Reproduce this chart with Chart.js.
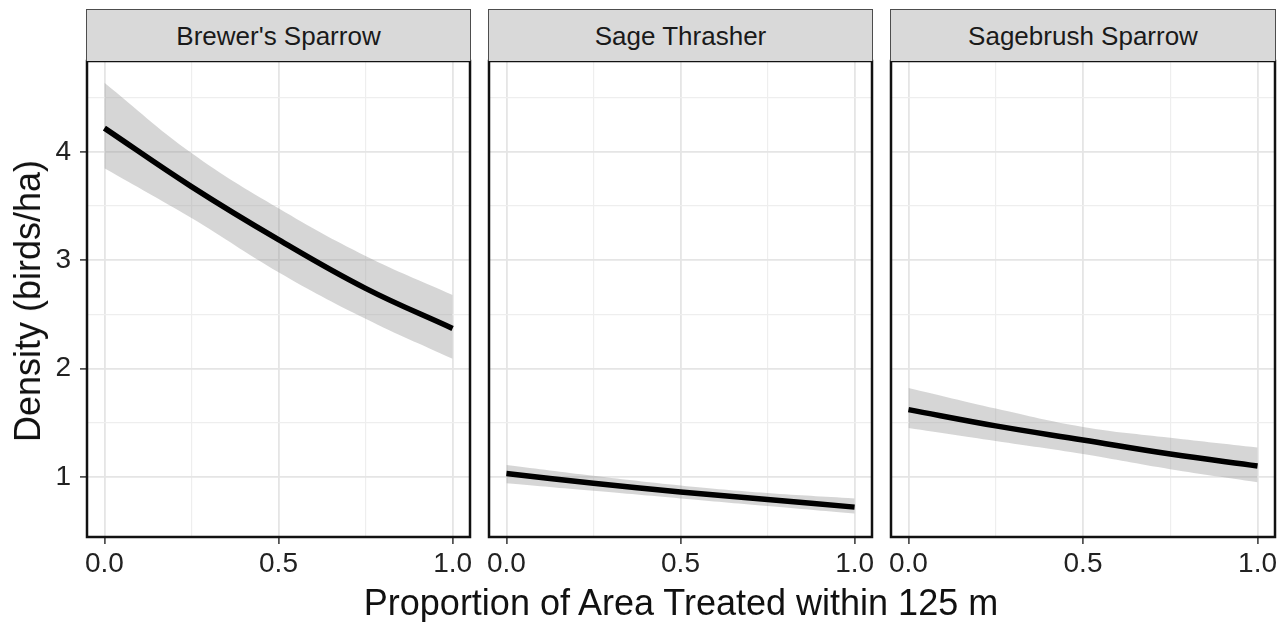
<!DOCTYPE html>
<html>
<head>
<meta charset="utf-8">
<script src="https://cdn.jsdelivr.net/npm/chart.js@4"></script>
<style>
  body { margin: 0; background: #fff; }
  #wrap { position: relative; width: 1286px; height: 622px; font-family: "Liberation Sans", Arial, sans-serif; overflow: hidden; }
  canvas { position: absolute; top: 0; }
  .strip { position: absolute; top: 9px; height: 52px; box-sizing: border-box; background: #d9d9d9; border: 1px solid #4d4d4d; border-bottom: none;
           color: #1a1a1a; font-size: 26px; line-height: 52px; text-align: center; }
  #xtitle { position: absolute; left: 0; width: 1362px; top: 582px; text-align: center; font-size: 36px; color: #111; line-height: 42px; }
  #ytitle { position: absolute; left: 28px; top: 301px; transform: translate(-50%, -50%) rotate(-90deg); white-space: nowrap; font-size: 36px; color: #111; }
</style>
</head>
<body>
<div id="wrap">
  <canvas id="p0" width="480" height="622" style="left:0px"></canvas>
  <canvas id="p1" width="400" height="622" style="left:480px"></canvas>
  <canvas id="p2" width="406" height="622" style="left:880px"></canvas>
  <div class="strip" id="s0" style="left:86px;width:385px"></div>
  <div class="strip" id="s1" style="left:488px;width:385px"></div>
  <div class="strip" id="s2" style="left:890px;width:386px"></div>
  <div id="xtitle">Proportion of Area Treated within 125 m</div>
  <div id="ytitle">Density (birds/ha)</div>
</div>
<script>
const speciesNames = ["Brewer's Sparrow", "Sage Thrasher", "Sagebrush Sparrow"];
const xValues = [0, 0.25, 0.5, 0.75, 1];

// fitted density and 95% band
const brewersFit   = [4.22, 3.68, 3.19, 2.74, 2.37];
const brewersUpper = [4.64, 3.99, 3.48, 3.04, 2.68];
const brewersLower = [3.85, 3.39, 2.89, 2.46, 2.09];

const thrasherFit   = [1.03, 0.94, 0.86, 0.79, 0.72];
const thrasherUpper = [1.11, 1.01, 0.92, 0.85, 0.80];
const thrasherLower = [0.94, 0.87, 0.80, 0.73, 0.66];

const sagebrushFit   = [1.62, 1.47, 1.34, 1.21, 1.10];
const sagebrushUpper = [1.82, 1.63, 1.46, 1.36, 1.27];
const sagebrushLower = [1.45, 1.33, 1.21, 1.07, 0.95];

const xTicks = [0, 0.25, 0.5, 0.75, 1];
const xTickLabels = ["0.0", "", "0.5", "", "1.0"];
const yTicks = [1, 1.5, 2, 2.5, 3, 3.5, 4, 4.5];
const yTickLabels = ["1", "", "2", "", "3", "", "4", ""];

const fits = [brewersFit, thrasherFit, sagebrushFit];
const uppers = [brewersUpper, thrasherUpper, sagebrushUpper];
const lowers = [brewersLower, thrasherLower, sagebrushLower];

const xRange = [-0.05, 1.05];
const yRange = [0.444, 4.84];

// canvas layout so the panels line up with the strips
const layoutInfo = [
  { padL: 0,  yAxisW: 87, padR: 10, showY: true },
  { padL: 9,  yAxisW: 0,  padR: 8,  showY: false },
  { padL: 11, yAxisW: 0,  padR: 11, showY: false }
];

const panelBorder = {
  id: "panelBorder",
  afterDraw(chart) {
    const { ctx, chartArea: a } = chart;
    ctx.save();
    ctx.strokeStyle = "#111";
    ctx.lineWidth = 2.5;
    ctx.strokeRect(a.left, a.top, a.right - a.left, a.bottom - a.top);
    ctx.restore();
  }
};

const pts = arr => xValues.map((x, i) => ({ x: x, y: arr[i] }));
const isMajor = (list, v) => list[v] !== "";

speciesNames.forEach((name, p) => {
  document.getElementById("s" + p).textContent = name;
  const L = layoutInfo[p];

  new Chart(document.getElementById("p" + p), {
    type: "line",
    data: {
      datasets: [
        { data: pts(fits[p]), borderColor: "#000", borderWidth: 5.5, pointRadius: 0, fill: false, tension: 0.4 },
        { data: pts(uppers[p]), borderWidth: 0, borderColor: "rgba(0,0,0,0)", pointRadius: 0, fill: "+1",
          backgroundColor: "rgba(153,153,153,0.4)", tension: 0.4 },
        { data: pts(lowers[p]), borderWidth: 0, borderColor: "rgba(0,0,0,0)", pointRadius: 0, fill: false, tension: 0.4 }
      ]
    },
    options: {
      responsive: false,
      animation: false,
      layout: { padding: { top: 61, bottom: 40, left: L.padL, right: L.padR } },
      plugins: { legend: { display: false }, tooltip: { enabled: false } },
      scales: {
        x: {
          type: "linear",
          min: xRange[0], max: xRange[1],
          afterBuildTicks: s => { s.ticks = xTicks.map(v => ({ value: v })); },
          afterFit: s => { s.height = 45; },
          border: { display: false },
          grid: {
            color: c => isMajor(xTickLabels, c.index) ? "#e5e5e5" : "#eeeeee",
            lineWidth: c => isMajor(xTickLabels, c.index) ? 1.8 : 1.2,
            tickColor: c => isMajor(xTickLabels, c.index) ? "#333" : "rgba(0,0,0,0)",
            tickLength: 7, tickWidth: 1.5
          },
          ticks: {
            autoSkip: false, maxRotation: 0, padding: 3,
            color: "#222",
            font: { family: "Liberation Sans", size: 28 },
            callback: (v, i) => xTickLabels[i]
          }
        },
        y: {
          type: "linear",
          min: yRange[0], max: yRange[1],
          afterBuildTicks: s => { s.ticks = yTicks.map(v => ({ value: v })); },
          afterFit: s => { s.width = L.yAxisW; },
          border: { display: false },
          grid: {
            color: c => isMajor(yTickLabels, c.index) ? "#e5e5e5" : "#eeeeee",
            lineWidth: c => isMajor(yTickLabels, c.index) ? 1.8 : 1.2,
            tickColor: c => (L.showY && isMajor(yTickLabels, c.index)) ? "#333" : "rgba(0,0,0,0)",
            drawTicks: L.showY,
            tickLength: 7, tickWidth: 1.5
          },
          ticks: {
            display: L.showY, padding: 9,
            color: "#222",
            font: { family: "Liberation Sans", size: 28 },
            callback: (v, i) => yTickLabels[i]
          }
        }
      }
    },
    plugins: [panelBorder]
  });
});
</script>
</body>
</html>
